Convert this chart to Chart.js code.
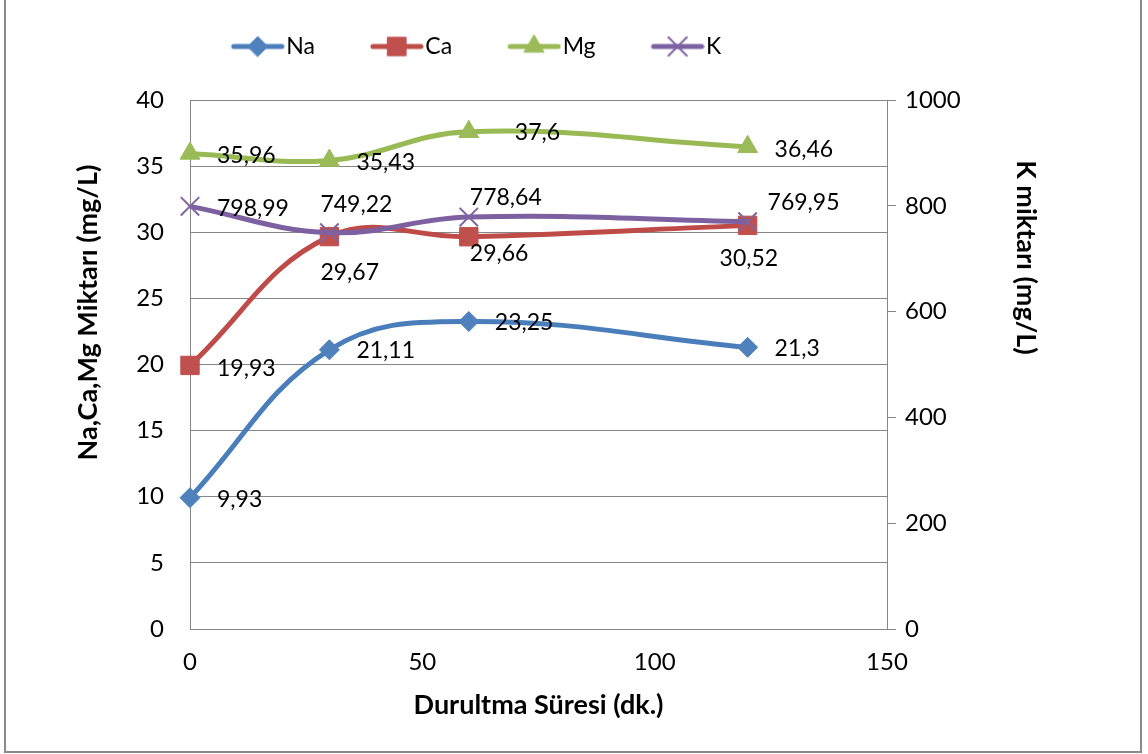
<!DOCTYPE html>
<html>
<head>
<meta charset="utf-8">
<title>Durultma Süresi – Na, Ca, Mg, K</title>
<script src="https://cdn.jsdelivr.net/npm/chart.js@4.4.1/dist/chart.umd.min.js"></script>
<style>
  html, body { margin: 0; padding: 0; background: #fff; }
  #wrap { position: relative; width: 1148px; height: 754px; overflow: hidden; }
  #frame { position: absolute; left: 4px; top: -4px; width: 1138px; height: 757px;
           border: 2px solid #8a8a8a; box-sizing: border-box; }
  #c { position: absolute; left: 0; top: 0; }
</style>
</head>
<body>
<div id="wrap">
  <div id="frame"></div>
  <canvas id="c" width="1148" height="754"></canvas>
</div>
<script>
// ---- data ----
const times = [0, 30, 60, 120];                 // Durultma süresi (dk.)
const naValues = [9.93, 21.11, 23.25, 21.3];    // mg/L
const caValues = [19.93, 29.67, 29.66, 30.52];  // mg/L
const mgValues = [35.96, 35.43, 37.6, 36.46];   // mg/L
const kValues = [798.99, 749.22, 778.64, 769.95]; // mg/L (right axis)
const seriesNames = ['Na', 'Ca', 'Mg', 'K'];
const xTickValues = [0, 50, 100, 150];
const leftTickValues = [0, 5, 10, 15, 20, 25, 30, 35, 40];
const rightTickValues = [0, 200, 400, 600, 800, 1000];
const xTitle = 'Durultma Süresi (dk.)';
const leftTitle = 'Na,Ca,Mg Miktarı (mg/L)';
const rightTitle = 'K miktarı (mg/L)';

// ---- styling ----
const FONT = 'Lato';
const GRID = '#868686';
const lineColors = ['#4A7EBB', '#BE4B48', '#98B954', '#7D60A0'];
const markColors = ['#4F81BD', '#C0504D', '#9BBB59', '#8064A2'];
const markStyles = ['rectRot', 'rect', 'triangle', 'crossRot'];
const markRadius = [10, 13, 11.5, 13];
const markBorder = [1, 1, 1, 2];

// label placement relative to each point: [dx to text start, dy to text middle]
const labelOffsets = [
  [[27, 2], [27, 1], [26, 1], [27, 1]],
  [[27, 3], [-9, 36], [1, 17], [-28, 33]],
  [[27, 2], [27, 2], [46, 1], [27, 3]],
  [[27, 2], [-9, -28], [1, -20], [20, -19]]
];

const LEG_BOX = 64;      // legend symbol slot width
const LEGEND_H = 100;    // legend band height
const LEGEND_SHIFT = -58;

function toPoints(vals) {
  return times.map((t, i) => ({ x: t, y: vals[i] }));
}

function legendSymbol(i) {
  const c = document.createElement('canvas');
  c.width = LEG_BOX + 20;
  c.height = 32;
  const g = c.getContext('2d');
  g.strokeStyle = lineColors[i];
  g.lineWidth = 5;
  g.lineCap = 'round';
  g.beginPath();
  g.moveTo(33, 16);
  g.lineTo(81, 16);
  g.stroke();
  g.fillStyle = markColors[i];
  g.strokeStyle = markColors[i];
  g.lineWidth = markBorder[i];
  Chart.helpers.drawPoint(g, {
    pointStyle: markStyles[i], radius: markRadius[i],
    borderWidth: markBorder[i], rotation: 0
  }, 57, 16);
  return c;
}

const seriesValues = [naValues, caValues, mgValues, kValues];
const datasets = seriesValues.map((vals, i) => ({
  label: seriesNames[i],
  data: toPoints(vals),
  yAxisID: i === 3 ? 'y1' : 'y',
  borderColor: lineColors[i],
  backgroundColor: markColors[i],
  borderWidth: 5,
  tension: 0.4,
  clip: false,
  pointStyle: markStyles[i],
  pointRadius: markRadius[i],
  pointHoverRadius: markRadius[i],
  pointBackgroundColor: markColors[i],
  pointBorderColor: markColors[i],
  pointBorderWidth: markBorder[i],
  order: 3 - i
}));

const fmt = v => String(v).replace('.', ',');

// value labels next to each marker
const valueLabels = {
  id: 'valueLabels',
  afterDatasetsDraw(chart) {
    const ctx = chart.ctx;
    ctx.save();
    ctx.font = `23px ${FONT}`;
    ctx.fillStyle = '#000';
    ctx.textAlign = 'left';
    ctx.textBaseline = 'middle';
    chart.data.datasets.forEach((ds, i) => {
      chart.getDatasetMeta(i).data.forEach((pt, j) => {
        const [dx, dy] = labelOffsets[i][j];
        ctx.fillText(fmt(ds.data[j].y), pt.x + dx, pt.y + dy);
      });
    });
    ctx.restore();
  }
};

// fixed legend band height, legend offset and axis-title offsets
const titleShift = { y: -52, y1: -107 };
const bandLayout = {
  id: 'bandLayout',
  beforeLayout(chart) {
    const lg = chart.legend;
    if (lg && !lg._bandFit) {
      const fit = lg.fit;
      lg.fit = function () { fit.call(this); this.height = LEGEND_H; };
      lg._bandFit = true;
    }
  },
  afterLayout(chart) {
    const lg = chart.legend;
    if (lg) { lg.left += LEGEND_SHIFT; lg.right += LEGEND_SHIFT; }
    Object.keys(titleShift).forEach(id => {
      const s = chart.scales[id];
      if (s && !s._titleShifted) {
        const draw = s.drawTitle;
        s.drawTitle = function () {
          const t = this.top, b = this.bottom;
          this.top += titleShift[id]; this.bottom += titleShift[id];
          draw.call(this);
          this.top = t; this.bottom = b;
        };
        s._titleShifted = true;
      }
    });
  }
};

const tickFont = { family: FONT, size: 24 };
const legendFont = { family: FONT, size: 23 };
const titleFont = { family: FONT, size: 27, weight: 'bold' };
const plainTick = v => String(v);

new Chart(document.getElementById('c'), {
  type: 'line',
  data: { datasets },
  plugins: [valueLabels, bandLayout],
  options: {
    responsive: false,
    animation: false,
    devicePixelRatio: 1,
    layout: { padding: { left: 0, right: 100, top: 0, bottom: 0 } },
    plugins: {
      tooltip: { enabled: false },
      legend: {
        position: 'top',
        labels: {
          usePointStyle: true,
          pointStyleWidth: LEG_BOX,
          padding: 35,
          color: '#000',
          font: legendFont,
          generateLabels(chart) {
            return chart.data.datasets.map((ds, i) => ({
              text: ds.label,
              pointStyle: legendSymbol(i),
              fillStyle: markColors[i],
              strokeStyle: lineColors[i],
              lineWidth: 0,
              hidden: false,
              fontColor: '#000',
              datasetIndex: i
            }));
          }
        }
      }
    },
    scales: {
      x: {
        type: 'linear',
        min: xTickValues[0],
        max: xTickValues[xTickValues.length - 1],
        afterBuildTicks: s => { s.ticks = xTickValues.map(v => ({ value: v })); },
        afterFit: s => { s.height = 125; },
        grid: { display: false, drawTicks: false },
        border: { display: true, color: GRID, width: 1 },
        ticks: { color: '#000', font: tickFont, padding: 19, maxRotation: 0, callback: plainTick },
        title: { display: true, text: xTitle, color: '#000', font: titleFont, padding: { top: 0, bottom: 33 } }
      },
      y: {
        type: 'linear',
        position: 'left',
        min: 0, max: 40,
        afterBuildTicks: s => { s.ticks = leftTickValues.map(v => ({ value: v })); },
        afterFit: s => { s.width = 190; },
        grid: { color: GRID, lineWidth: 1, drawTicks: false },
        border: { display: true, color: GRID, width: 1 },
        ticks: { color: '#000', font: tickFont, padding: 26, callback: plainTick },
        title: { display: true, text: leftTitle, color: '#000', font: titleFont, padding: { top: 72, bottom: 0 } }
      },
      y1: {
        type: 'linear',
        position: 'right',
        min: 0, max: 1000,
        afterBuildTicks: s => { s.ticks = rightTickValues.map(v => ({ value: v })); },
        afterFit: s => { s.width = 161; },
        grid: { drawOnChartArea: false, color: GRID, lineWidth: 1, drawTicks: true, tickLength: 9 },
        border: { display: true, color: GRID, width: 1 },
        ticks: { color: '#000', font: tickFont, padding: 9, callback: plainTick },
        title: { display: true, text: rightTitle, color: '#000', font: titleFont, padding: { top: 6, bottom: 0 } }
      }
    }
  }
});
</script>
</body>
</html>
